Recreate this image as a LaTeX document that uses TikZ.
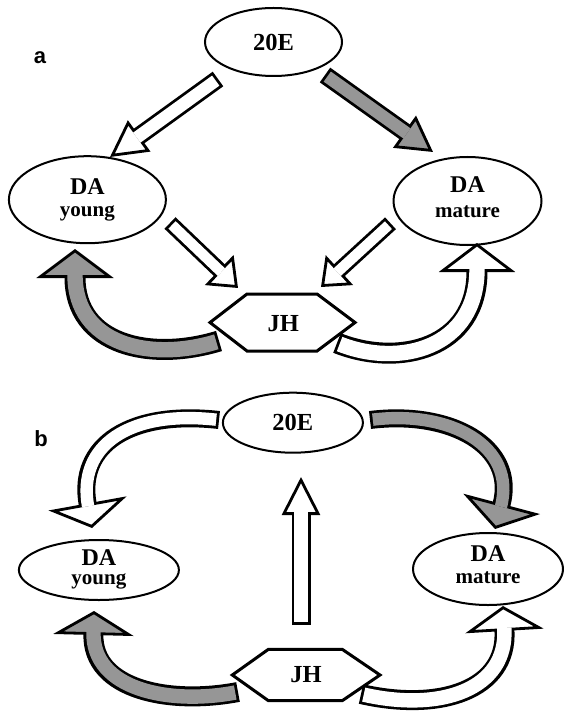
\documentclass[tikz,border=0pt]{standalone}
\usepackage{fontspec}
\setmainfont{Liberation Serif}
\newfontfamily\panelfont{Liberation Sans}
\usetikzlibrary{arrows.meta,shapes.geometric}
\definecolor{agray}{RGB}{150,150,150}
\tikzset{
  ell/.style={draw, line width=2pt, ellipse, inner sep=0pt, fill=white},
  hexbox/.style={draw, line width=3pt, fill=white, line join=miter},
  tbig/.style={font=\bfseries\fontsize{24.5}{26}\selectfont, inner sep=0pt},
  tda/.style={font=\bfseries\fontsize{24}{26}\selectfont, inner sep=0pt, anchor=base},
  tsmall/.style={font=\bfseries\fontsize{21}{24}\selectfont, inner sep=0pt, anchor=base},
  panellabel/.style={font=\panelfont\bfseries\fontsize{22}{24}\selectfont, inner sep=0pt, anchor=base},
}
% #1 fill, #2 shaft width, #3 head width, #4 head length, #5 path
\newcommand\blockarr[5]{%
  \draw[line width=#2pt, black, line join=miter,
        -{Triangle[width=#3pt,length=#4pt,fill=#1,line width=2.8pt 0]}] #5;
  \draw[line width=#2pt-5.6pt, #1, shorten <=2.8pt, shorten >=#4pt-3pt] #5;
}
\begin{document}
\begin{tikzpicture}[x=1pt,y=-1pt]
\useasboundingbox (0,0) rectangle (563,711);

% ---------------- panel a ----------------
\node[panellabel] (la) at (40,63.3) {a};
\node[ell, tbig, minimum width=137pt, minimum height=68pt] (ea) at (273.5,42) {20E};
\node[ell, minimum width=157pt, minimum height=87pt] (ya) at (87.4,199.7) {};
\node[tda] (yaA) at ([shift={(0,-5.5)}]ya.center) {DA};
\node[tsmall] (yaB) at ([shift={(0,17.3)}]ya.center) {young};
\node[ell, minimum width=148pt, minimum height=88pt] (ma) at (467.5,201) {};
\node[tda] (maA) at ([shift={(0,-8)}]ma.center) {DA};
\node[tsmall] (maB) at ([shift={(0,17)}]ma.center) {mature};

\coordinate (a1s) at (218,79);   \coordinate (a1e) at (110,157);
\coordinate (a2s) at (325,75);   \coordinate (a2e) at (433,152);
\coordinate (a3s) at (170,223);  \coordinate (a3e) at (238,288);
\coordinate (a4s) at (390.5,223.3); \coordinate (a4e) at (321,287);
\coordinate (a5s) at (219,341);  \coordinate (a5e) at (75,249);
\coordinate (a6s) at (337,343);  \coordinate (a6e) at (477,243);

\blockarr{white}{18}{38}{36}{(a1s) -- (a1e)}
\blockarr{agray}{18}{39}{35}{(a2s) -- (a2e)}
\blockarr{white}{16}{41}{26}{(a3s) -- (a3e)}
\blockarr{white}{16}{40}{25}{(a4s) -- (a4e)}
\blockarr{agray}{21}{77}{29}{(a5s) .. controls (150,362) and (75,345) .. (a5e)}
\blockarr{white}{21}{76}{29}{(a6s) .. controls (400,368) and (477,348) .. (a6e)}

\coordinate (jhac) at (282.5,322.5);
\draw[hexbox] ([shift={(-72.5,0)}]jhac) -- ([shift={(-35.5,-28.5)}]jhac)
  -- ([shift={(34.5,-28.5)}]jhac) -- ([shift={(72.5,0)}]jhac)
  -- ([shift={(34.5,28.5)}]jhac) -- ([shift={(-35.5,28.5)}]jhac) -- cycle;
\node[tbig] (jha) at (283.3,323.3) {JH};

% ---------------- panel b ----------------
\node[panellabel] (lb) at (41,446) {b};
\node[ell, tbig, minimum width=140pt, minimum height=60pt] (eb) at (292.9,422.7) {20E};
\node[ell, minimum width=160pt, minimum height=60pt] (yb) at (98.9,570) {};
\node[tda] (ybA) at ([shift={(0,-5)}]yb.center) {DA};
\node[tsmall] (ybB) at ([shift={(0,14.5)}]yb.center) {young};
\node[ell, minimum width=150pt, minimum height=72pt] (mb) at (488,569) {};
\node[tda] (mbA) at ([shift={(0,-7.5)}]mb.center) {DA};
\node[tsmall] (mbB) at ([shift={(0,14)}]mb.center) {mature};

\coordinate (b1s) at (301,625);  \coordinate (b1e) at (301,477);
\coordinate (b2s) at (219,420);  \coordinate (b2e) at (92,528);
\coordinate (b3s) at (370,420);  \coordinate (b3e) at (495,529);
\coordinate (b4s) at (238,692);  \coordinate (b4e) at (94,611);
\coordinate (b5s) at (361,694);  \coordinate (b5e) at (503,606);

\blockarr{white}{19}{38}{38}{(b1s) -- (b1e)}
\blockarr{white}{18}{79}{25}{(b2s) .. controls (130,410) and (77,445) .. (b2e)}
\blockarr{agray}{18}{79}{26}{(b3s) .. controls (450,410) and (517,446) .. (b3e)}
\blockarr{agray}{20}{80}{24}{(b4s) .. controls (170,705) and (92,690) .. (b4e)}
\blockarr{white}{20}{78}{25}{(b5s) .. controls (440,712) and (508,690) .. (b5e)}

\coordinate (jhbc) at (306,675);
\draw[hexbox] ([shift={(-73.7,0)}]jhbc) -- ([shift={(-37.6,-25.7)}]jhbc)
  -- ([shift={(36.2,-25.7)}]jhbc) -- ([shift={(74,0)}]jhbc)
  -- ([shift={(36.2,25.7)}]jhbc) -- ([shift={(-37.6,25.7)}]jhbc) -- cycle;
\node[tbig] (jhb) at (306,675) {JH};
\end{tikzpicture}
\end{document}
